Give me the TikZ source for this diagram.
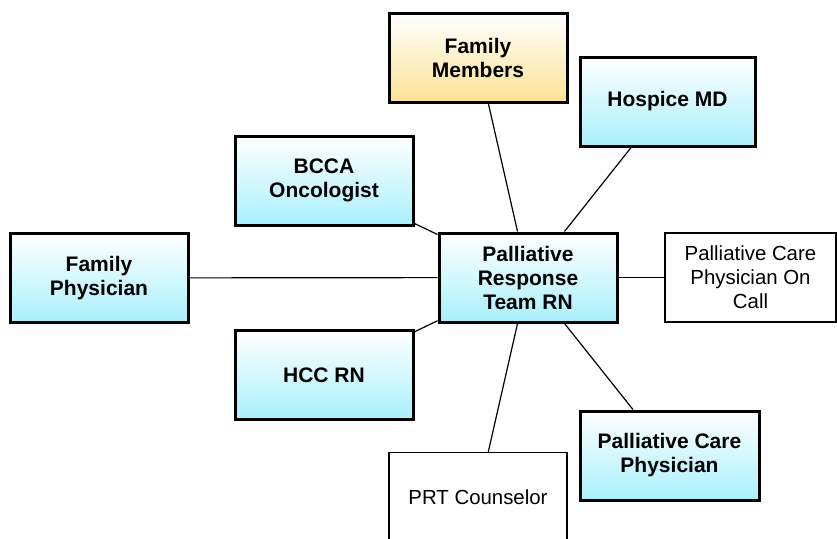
\documentclass[tikz,border=0pt]{standalone}
\usepackage{fontspec}
\setmainfont{Liberation Sans}
\definecolor{boxblue}{RGB}{168,240,252}
\definecolor{boxorange}{RGB}{252,226,148}
\begin{document}
\begin{tikzpicture}[x=0.5pt, y=0.5pt,
  box/.style={draw, line width=1.5pt, minimum width=89pt, minimum height=44.5pt,
    inner sep=0pt, align=center, font=\bfseries\fontsize{10.5}{12}\selectfont},
  bluebox/.style={box, top color=white, bottom color=boxblue},
  orangebox/.style={box, top color=white, bottom color=boxorange},
  plainbox/.style={draw, line width=0.65pt, fill=white, minimum width=89pt,
    minimum height=44.5pt, inner sep=0pt, align=center,
    font=\fontsize{10.2}{12}\selectfont},
  link/.style={line width=0.6pt}]
  % Frame
  \clip (0,0) rectangle (837,538);
  \fill[white] (0,0) rectangle (837,538);

  % Boxes
  \node[bluebox] (prt) at (528, 260.5) {Palliative\\Response\\Team RN};
  \node[orangebox] (fammem) at (478, 480) {Family\\Members};
  \node[bluebox, minimum width=87.5pt] (hospice) at (667.5, 436.5) {Hospice MD};
  \node[bluebox] (bcca) at (324, 357.5) {BCCA\\Oncologist};
  \node[bluebox] (famphys) at (99, 260) {Family\\Physician};
  \node[bluebox] (hcc) at (324, 163) {HCC RN};
  \node[plainbox, minimum width=85.5pt] (oncall) at (750.5, 260.5) {Palliative Care\\Physician On\\Call};
  \node[bluebox, minimum width=89.5pt] (pcp) at (669.5, 82.5) {Palliative Care\\Physician};
  \node[plainbox] (counselor) at (478, 41) {PRT Counselor};

  % Links
  \foreach \other in {fammem, hospice, bcca, famphys, hcc, oncall, pcp, counselor} {
    \draw[link] (prt) -- (\other);
  }
\end{tikzpicture}
\end{document}
